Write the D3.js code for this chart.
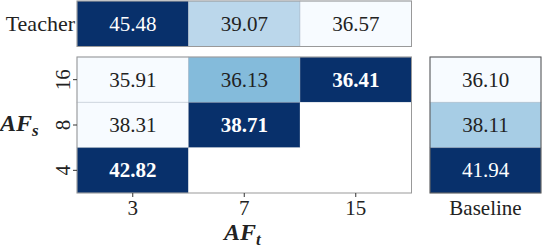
<!DOCTYPE html>
<meta charset="utf-8">
<script src="https://d3js.org/d3.v7.min.js"></script>
<body style="margin:0;background:#fff">
<div id="chart"></div>
<script>
// data
var afT = ["3", "7", "15"];
var afS = ["16", "8", "4"];
var teacher = [45.48, 39.07, 36.57];
var grid = [
  [35.91, 36.13, 36.41],
  [38.31, 38.71, null],
  [42.82, null, null]
];
var baseline = [36.10, 38.11, 41.94];

var W = 542, H = 248, fs = 21;
var serif = "'Liberation Serif'";

function font(sel, size) {
  return sel.attr("font-family", serif).style("font-family", serif).style("font-size", size + "px");
}

var svg = d3.select("#chart").append("svg")
  .attr("width", W).attr("height", H);

var x = d3.scaleBand().domain(afT).range([77, 411.5]);
var yMain = d3.scaleBand().domain(afS).range([57, 193]);
var yTeach = d3.scaleBand().domain(["Teacher"]).range([1, 46.5]);
var xBase = d3.scaleBand().domain(["Baseline"]).range([430, 541]);

// colour scale normalised inside each row/column
function colorFor(vals) {
  var ext = d3.extent(vals.filter(function(d) { return d != null; }));
  return d3.scaleSequential(d3.interpolateBlues).domain(ext[0] === ext[1] ? [ext[0] - 1, ext[0]] : ext);
}

var cells = [];
var cT = colorFor(teacher);
teacher.forEach(function(v, i) {
  cells.push({ v: v, c: cT, x: x(afT[i]), y: yTeach("Teacher"), w: x.bandwidth(), h: yTeach.bandwidth(), bold: false });
});
grid.forEach(function(row, r) {
  var c = colorFor(row);
  var mx = d3.max(row);
  row.forEach(function(v, i) {
    cells.push({ v: v, c: c, x: x(afT[i]), y: yMain(afS[r]), w: x.bandwidth(), h: yMain.bandwidth(), bold: v === mx });
  });
});
var cB = colorFor(baseline);
baseline.forEach(function(v, i) {
  cells.push({ v: v, c: cB, x: xBase("Baseline"), y: yMain(afS[i]), w: xBase.bandwidth(), h: yMain.bandwidth(), bold: false });
});

// cells
svg.selectAll("rect.cell").data(cells).enter().append("rect")
  .attr("x", function(d) { return d.x; })
  .attr("y", function(d) { return d.y; })
  .attr("width", function(d) { return d.w; })
  .attr("height", function(d) { return d.h; })
  .attr("fill", function(d) { return d.v == null ? "#fff" : d.c(d.v); })
  .attr("stroke", function(d) { return d.v == null ? "none" : "#aab4c2"; })
  .attr("stroke-opacity", 0.5)
  .attr("stroke-width", 0.8);

// frames
svg.append("rect").attr("x", 77).attr("y", 1).attr("width", 334.5).attr("height", 45.5)
  .attr("fill", "none").attr("stroke", "#999");
svg.append("rect").attr("x", 77).attr("y", 57).attr("width", 334.5).attr("height", 136)
  .attr("fill", "none").attr("stroke", "#999");
svg.append("rect").attr("x", 430).attr("y", 57).attr("width", 111).attr("height", 136)
  .attr("fill", "none").attr("stroke", "#555");

// cell values
var vals = cells.filter(function(d) { return d.v != null; });
font(svg.selectAll("text.val").data(vals).enter().append("text")
  .attr("x", function(d) { return d.x + d.w / 2; })
  .attr("y", function(d) { return d.y + d.h / 2; })
  .attr("text-anchor", "middle")
  .attr("dominant-baseline", "central")
  .style("font-weight", function(d) { return d.bold ? "bold" : "normal"; })
  .style("fill", function(d) { return d3.hsl(d.c(d.v)).l < 0.45 ? "#fff" : "#222"; })
  .text(function(d) { return d.v.toFixed(2); }), fs);

// row label
font(svg.append("text").attr("x", 75).attr("y", yTeach("Teacher") + yTeach.bandwidth() / 2)
  .attr("text-anchor", "end").attr("dominant-baseline", "central")
  .style("fill", "#222").text("Teacher"), fs + 1);

// axes
var ay = svg.append("g").attr("transform", "translate(77,0)")
  .attr("font-family", serif)
  .call(d3.axisLeft(yMain).tickSize(4));
ay.select(".domain").remove();
ay.selectAll("line").attr("stroke", "#333");
font(ay.selectAll("text")
  .attr("x", -14).attr("y", 0).attr("dy", null)
  .attr("transform", "rotate(-90,-14,0)")
  .attr("text-anchor", "middle").attr("dominant-baseline", "central")
  .attr("fill", "#222"), fs);

var ax = svg.append("g").attr("transform", "translate(0,193)")
  .call(d3.axisBottom(x).tickSize(4).tickPadding(3));
ax.select(".domain").remove();
ax.selectAll("line").attr("stroke", "#333");
font(ax.selectAll("text").attr("fill", "#222"), fs);

var axb = svg.append("g").attr("transform", "translate(0,193)")
  .call(d3.axisBottom(xBase).tickSize(0).tickPadding(7));
axb.select(".domain").remove();
font(axb.selectAll("text").attr("fill", "#222"), fs);

// axis titles (subscripts as separate texts)
font(svg.append("text").attr("x", 224).attr("y", 240).style("fill", "#222")
  .style("font-weight", "bold").style("font-style", "italic").text("AF"), 24);
font(svg.append("text").attr("x", 256).attr("y", 245).style("fill", "#222")
  .style("font-weight", "bold").style("font-style", "italic").text("t"), 17);
font(svg.append("text").attr("x", 0).attr("y", 131).style("fill", "#222")
  .style("font-weight", "bold").style("font-style", "italic").text("AF"), 24);
font(svg.append("text").attr("x", 32).attr("y", 136).style("fill", "#222")
  .style("font-weight", "bold").style("font-style", "italic").text("s"), 17);
</script>
